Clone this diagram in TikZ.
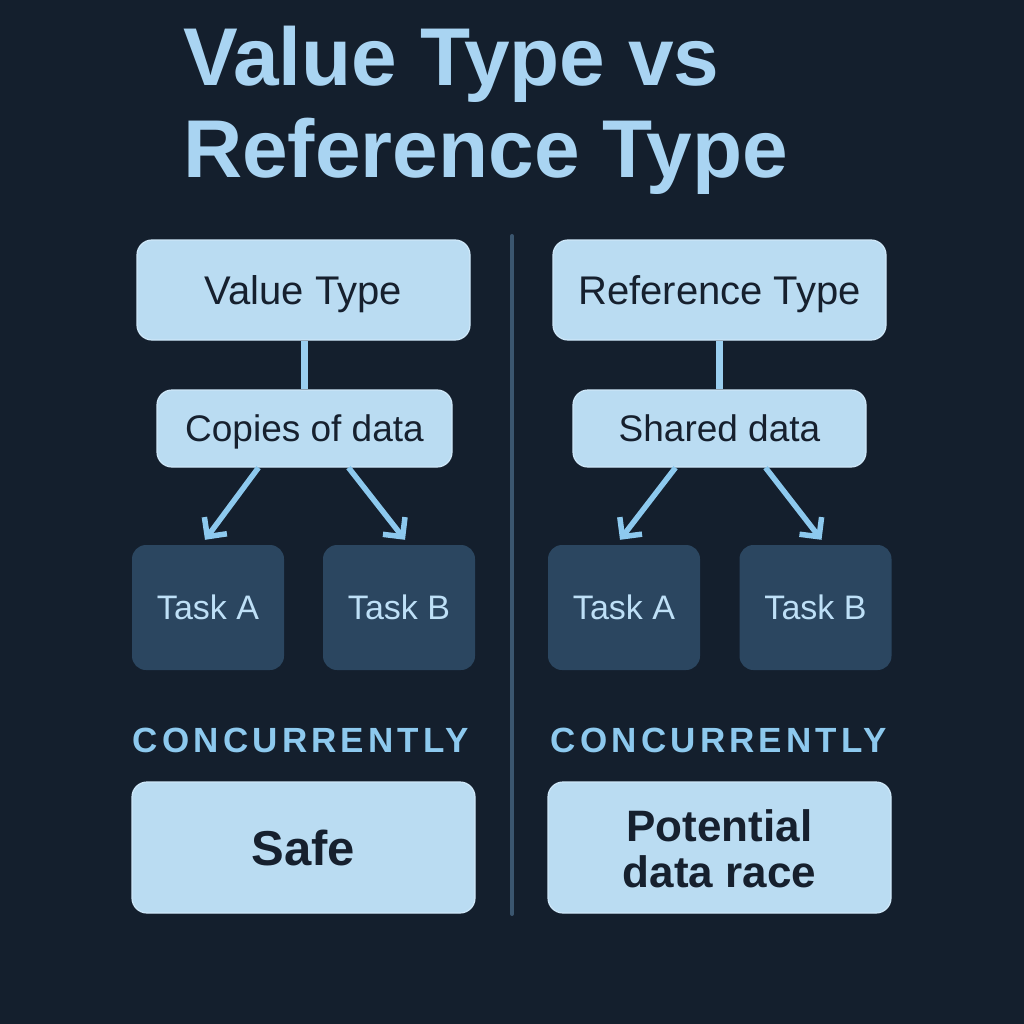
\documentclass[tikz,border=0pt]{standalone}
\usepackage{fontspec}
\setmainfont{Liberation Sans}
\usetikzlibrary{arrows.meta,calc}
\definecolor{bg}{HTML}{141F2D}
\definecolor{titlec}{HTML}{A9D4F2}
\definecolor{lightbox}{HTML}{BADCF2}
\definecolor{lightedge}{HTML}{CFE8F9}
\definecolor{darkbox}{HTML}{2B4660}
\definecolor{darktext}{HTML}{16202E}
\definecolor{tasktext}{HTML}{BEE0F7}
\definecolor{accent}{HTML}{8DC9EE}
\definecolor{linkc}{HTML}{9BCFF0}
\definecolor{divc}{HTML}{3B566F}
\tikzset{
  lbox/.style={draw=lightedge, line width=1.2pt, fill=lightbox, rounded corners=15pt, text=darktext, inner sep=0pt, align=center},
  dbox/.style={fill=darkbox, rounded corners=14pt, text=tasktext, inner sep=0pt, minimum width=152pt, minimum height=125pt,
    font=\fontsize{34}{40}\selectfont, text height=24.3pt, text depth=0pt},
  headtxt/.style={font=\fontsize{40}{46}\selectfont, text height=28.6pt, text depth=0pt},
  midtxt/.style={font=\fontsize{37}{42}\selectfont, text height=26.5pt, text depth=0pt},
  conc/.style={text=accent, inner sep=0pt, font=\fontsize{35}{40}\selectfont\bfseries\addfontfeature{LetterSpace=12}},
  arr/.style={draw=accent, line width=5.5pt, -{Straight Barb[length=14pt,width=28pt,line width=5.5pt]}},
  link/.style={draw=linkc, line width=7pt},
  titletxt/.style={text=titlec, inner sep=0pt, anchor=base west, font=\fontsize{82}{92}\selectfont\bfseries}
}
\begin{document}
\begin{tikzpicture}[x=1pt,y=-1pt]
\fill[bg] (0,0) rectangle (1024,1024);
\useasboundingbox (0,0) rectangle (1024,1024);
% title
\node[titletxt] (t1) at (183,86) {Value Type vs};
\node[titletxt] (t2) at (183,178) {Reference Type};
% divider
\coordinate (dtop) at (512,236);
\coordinate (dbot) at (512,914);
\draw[divc, line width=4pt, line cap=round] (dtop) -- (dbot);
% left column
\node[lbox, headtxt, minimum width=333pt, minimum height=100pt] (vL) at (303.5,290) {Value Type};
\node[lbox, midtxt, minimum width=295pt, minimum height=77pt] (cL) at (304.5,428.5) {Copies of data};
\node[dbox] (aL) at (208,607.5) {Task A};
\node[dbox] (bL) at (399,607.5) {Task B};
\node[conc] (kL) at (301,740) {CONCURRENTLY};
\node[lbox, minimum width=343pt, minimum height=131pt, font=\fontsize{49}{54}\selectfont\bfseries, text height=35pt, text depth=0pt] (sL) at (303.5,847.5) {Safe};
% right column
\node[lbox, headtxt, minimum width=333pt, minimum height=100pt] (vR) at (719.5,290) {Reference Type};
\node[lbox, midtxt, minimum width=293pt, minimum height=77pt] (cR) at (719.5,428.5) {Shared data};
\node[dbox] (aR) at (624,607.5) {Task A};
\node[dbox] (bR) at (815.5,607.5) {Task B};
\node[conc] (kR) at (719,740) {CONCURRENTLY};
\node[lbox, minimum width=343pt, minimum height=131pt] (sR) at (719.5,847.5) {};
\node[text=darktext, inner sep=0pt, align=center, font=\fontsize{44}{46}\selectfont\bfseries] (sRt) at ($(sR.center)+(0,1.5)$) {Potential\\data race};
% links
\draw[link] (cL.north |- vL.south) -- (cL.north);
\draw[link] (vR.south) -- (cR.north);
\draw[arr] ($(cL.south)+(-46,0)$) -- ($(aL.north)+(-3,-5)$);
\draw[arr] ($(cL.south)+(44,0)$) -- ($(bL.north)+(6,-5)$);
\draw[arr] ($(cR.south)+(-44,0)$) -- ($(aR.north)+(-4,-5)$);
\draw[arr] ($(cR.south)+(46,0)$) -- ($(bR.north)+(6,-5)$);
\end{tikzpicture}
\end{document}
